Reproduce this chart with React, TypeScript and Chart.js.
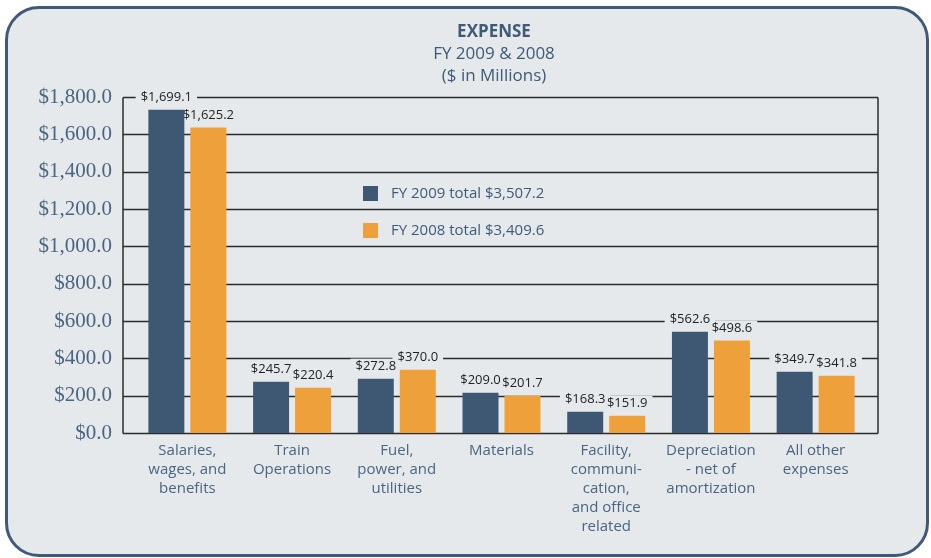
import React, { useEffect, useRef } from "react";
import { Chart, registerables } from "chart.js";

Chart.register(...registerables);

const categories: string[][] = [
  ["Salaries,", "wages, and", "benefits"],
  ["Train", "Operations"],
  ["Fuel,", "power, and", "utilities"],
  ["Materials"],
  ["Facility,", "communi-", "cation,", "and office", "related"],
  ["Depreciation", "- net of", "amortization"],
  ["All other", "expenses"],
];

// bar heights as drawn in the picture
const fy2009Values = [1732, 275, 291, 216, 114, 543, 328];
const fy2008Values = [1636, 243, 339, 200, 93, 495, 307];

// printed data labels
const fy2009Labels = ["$1,699.1", "$245.7", "$272.8", "$209.0", "$168.3", "$562.6", "$349.7"];
const fy2008Labels = ["$1,625.2", "$220.4", "$370.0", "$201.7", "$151.9", "$498.6", "$341.8"];

const seriesNames = ["FY 2009 total $3,507.2", "FY 2008 total $3,409.6"];
const titleLines = ["EXPENSE", "FY 2009 & 2008", "($ in Millions)"];
const yTicks = [0, 200, 400, 600, 800, 1000, 1200, 1400, 1600, 1800];

const BLUE = "#3e5874";
const ORANGE = "#eea03b";
const TEXT = "#3f5a78";
const BG = "#e6e9ec";
const SANS = "'Open Sans', 'Noto Sans', sans-serif";

const fmt = (v: number) =>
  "$" + v.toLocaleString("en-US", { minimumFractionDigits: 1, maximumFractionDigits: 1 });

const decorPlugin = {
  id: "decor",
  beforeDatasetsDraw(chart: any) {
    const ctx = chart.ctx;
    const y = chart.scales.y;
    const left = 123;
    const right = 878;
    ctx.save();
    ctx.strokeStyle = "#2b2b2b";
    ctx.lineWidth = 1.5;
    yTicks.forEach((t) => {
      const py = Math.round(y.getPixelForValue(t)) + 0.5;
      ctx.beginPath();
      ctx.moveTo(left, py);
      ctx.lineTo(right, py);
      ctx.stroke();
    });
    const top = Math.round(y.getPixelForValue(1800)) + 0.5;
    const bot = Math.round(y.getPixelForValue(0)) + 0.5;
    [left, right].forEach((x) => {
      ctx.beginPath();
      ctx.moveTo(x, top);
      ctx.lineTo(x, bot);
      ctx.stroke();
    });

    // data labels: masks first, then text (bars are drawn afterwards on top)
    ctx.font = `13px ${SANS}`;
    ctx.textAlign = "center";
    ctx.textBaseline = "middle";
    const labelSets = [fy2009Labels, fy2008Labels];
    const items: { txt: string; cx: number; cy: number; w: number }[] = [];
    labelSets.forEach((labels, di) => {
      const meta = chart.getDatasetMeta(di);
      meta.data.forEach((bar: any, i: number) => {
        const txt = labels[i];
        items.push({ txt, cx: bar.x, cy: bar.y - 12, w: ctx.measureText(txt).width });
      });
    });
    ctx.fillStyle = BG;
    items.forEach((it) => ctx.fillRect(it.cx - it.w / 2 - 5, it.cy - 8, it.w + 10, 16));
    ctx.fillStyle = "#222";
    items.forEach((it) => ctx.fillText(it.txt, it.cx, it.cy));

    // legend
    const legendColors = [BLUE, ORANGE];
    const legendY = [193, 230];
    legendColors.forEach((c, i) => {
      ctx.fillStyle = BG;
      ctx.fillRect(356, legendY[i] - 10, 210, 20);
      ctx.fillStyle = c;
      ctx.fillRect(363, legendY[i] - 7, 15, 15);
      ctx.fillStyle = TEXT;
      ctx.font = `15px ${SANS}`;
      ctx.textAlign = "left";
      ctx.fillText(seriesNames[i], 391, legendY[i] + 1);
    });

    // title
    ctx.textAlign = "center";
    ctx.fillStyle = TEXT;
    const ty = [32, 54, 76];
    titleLines.forEach((t, i) => {
      ctx.font = `${i === 0 ? "bold " : ""}17px ${SANS}`;
      ctx.fillText(t, 494, ty[i]);
    });
    ctx.restore();
  },
};

export default function App() {
  const ref = useRef<HTMLCanvasElement | null>(null);
  useEffect(() => {
    if (!ref.current) return;
    const chart = new Chart(ref.current, {
      type: "bar",
      data: {
        labels: categories,
        datasets: [
          { label: seriesNames[0], data: fy2009Values, backgroundColor: BLUE, barPercentage: 0.857, categoryPercentage: 0.802 },
          { label: seriesNames[1], data: fy2008Values, backgroundColor: ORANGE, barPercentage: 0.857, categoryPercentage: 0.802 },
        ],
      },
      options: {
        animation: false,
        responsive: false,
        devicePixelRatio: 1,
        layout: { padding: { left: 0, right: 63, top: 97, bottom: 25 } },
        plugins: { legend: { display: false }, tooltip: { enabled: false }, title: { display: false } },
        scales: {
          x: {
            grid: { display: false, drawTicks: false },
            border: { display: false },
            ticks: {
              autoSkip: false,
              maxRotation: 0,
              minRotation: 0,
              padding: 8,
              color: "#4a6482",
              font: { family: SANS, size: 15, lineHeight: 1.27 },
            },
            afterFit(scale: any) {
              scale.height = 100;
            },
          },
          y: {
            min: 0,
            max: 1800,
            grid: { display: false, drawTicks: false },
            border: { display: false },
            ticks: {
              stepSize: 200,
              padding: 23,
              color: "#4a6482",
              font: { family: "'Liberation Serif', 'DejaVu Serif', serif", size: 21 },
              callback: (v: any) => fmt(Number(v)),
            },
            afterFit(scale: any) {
              scale.width = 135;
            },
          },
        },
      },
      plugins: [decorPlugin],
    });
    return () => chart.destroy();
  }, []);

  return (
    <div style={{ position: "absolute", left: 0, top: 0, width: 931, height: 558, background: "#fff" }}>
      <div
        style={{
          position: "absolute",
          left: 5,
          top: 6,
          width: 924,
          height: 551,
          boxSizing: "border-box",
          border: "3px solid #3f5a78",
          borderRadius: 34,
          background: BG,
        }}
      />
      <canvas ref={ref} width={931} height={558} style={{ position: "absolute", left: 0, top: 0 }} />
    </div>
  );
}
